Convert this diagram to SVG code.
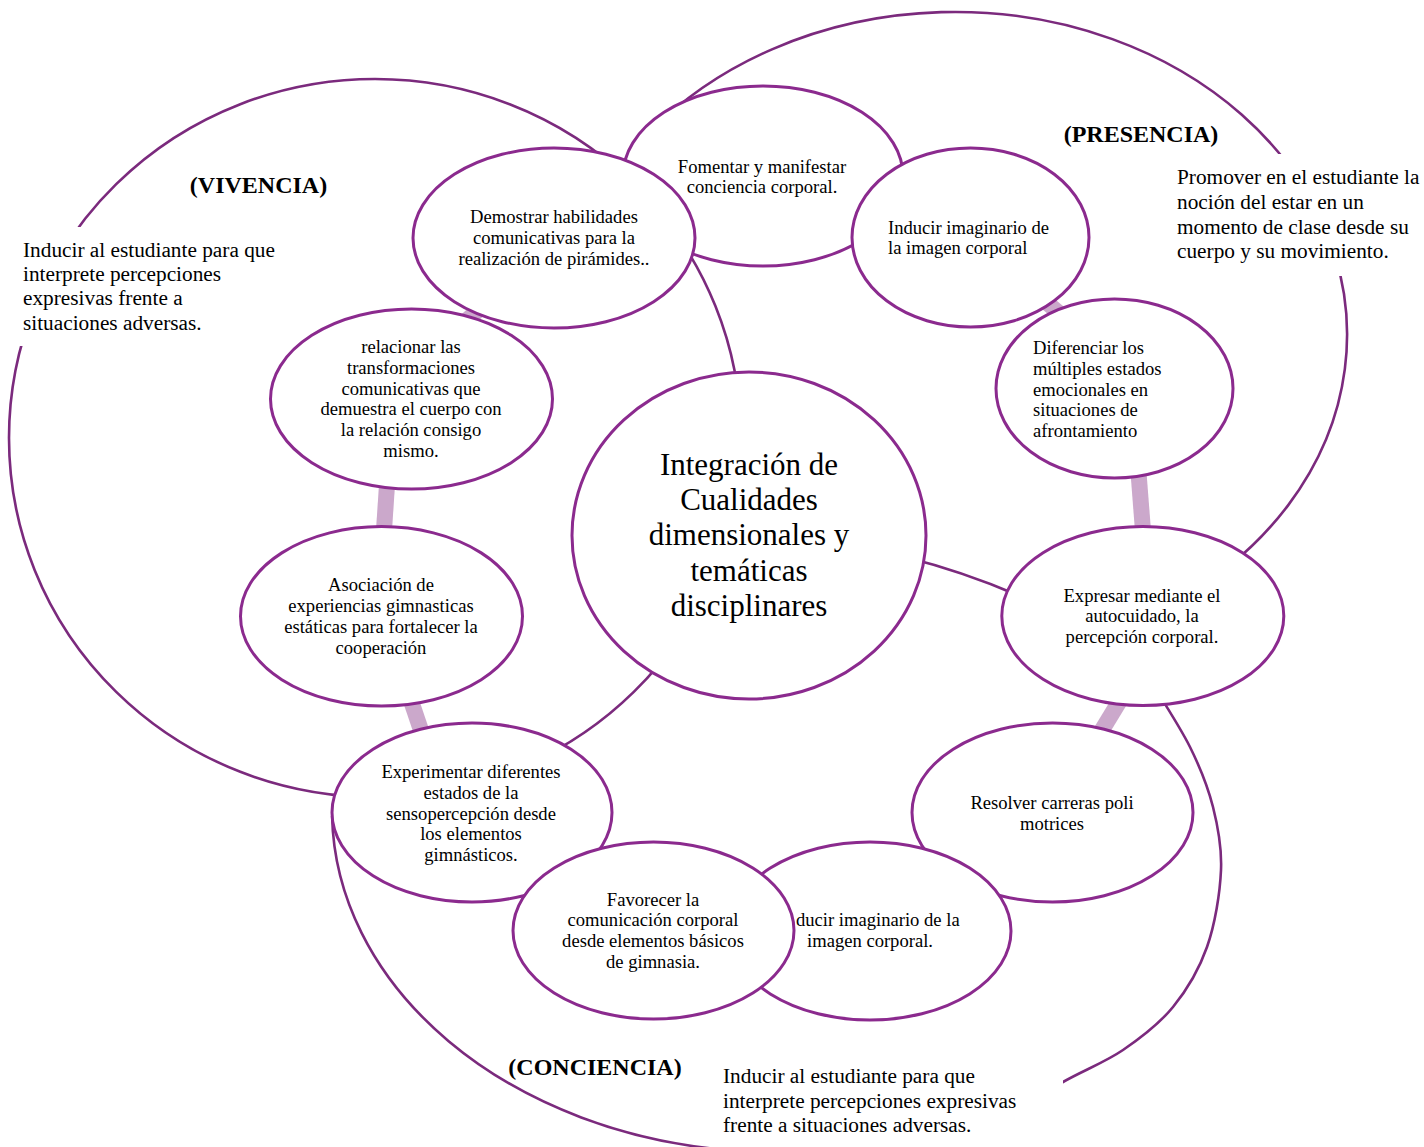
<svg xmlns="http://www.w3.org/2000/svg" width="1424" height="1147" viewBox="0 0 1424 1147">
<style>
.bg{fill:#ffffff}
.arc{fill:none;stroke:#7B2A7D;stroke-width:2.6}
.band{fill:none;stroke:#CBA8CB;stroke-width:16;stroke-linecap:butt}
.node ellipse{fill:#ffffff;stroke:#8B2A8E;stroke-width:3}
.t{font-family:"Liberation Serif","Times New Roman",serif;font-size:18.6px;fill:#000}
.c{text-anchor:middle}
.big{font-size:21.3px}
.lbl{font-weight:bold;font-size:24px;text-anchor:middle}
.cen{font-size:31px}
.box{fill:#ffffff;stroke:none}
</style>
<rect class="bg" x="0" y="0" width="1424" height="1147"/>

<g id="connectors">
  <!-- VIVENCIA outline -->
  <ellipse class="arc" cx="375" cy="438" rx="366" ry="359"/>
  <!-- PRESENCIA outline -->
  <path class="arc" d="M650 132.1 A392 323 0 1 1 1179.1 600"/>
  <!-- CONCIENCIA outline -->
  <path class="arc" d="M332.1 816 A444.5 341.8 0 0 0 730 1150.3"/>
  <path class="arc" d="M1000 1120 C1010.5 1113.7 1042.5 1093.7 1063 1082 C1083.5 1070.3 1104.7 1062.5 1123 1050 C1141.3 1037.5 1159 1024.2 1173 1007 C1187 989.8 1199 969.8 1207 947 C1215 924.2 1220 893.3 1221 870 C1222 846.7 1218.2 827.5 1213 807 C1207.8 786.5 1200.5 768.2 1190 747 C1179.5 725.8 1156.7 691.2 1150 680"/>
  <!-- centre to Expresar -->
  <path class="arc" d="M905 557 Q965 572 1022 597"/>
  <!-- cycle bands -->
  <path class="band" d="M500 290 L440 345"/>
  <path class="band" d="M388 470 L383 545"/>
  <path class="band" d="M405 683 L427 748"/>
  <path class="band" d="M1020 280 L1085 335"/>
  <path class="band" d="M1136 440 L1146 570"/>
  <path class="band" d="M1130 684 L1088 753"/>
</g>

<g id="text-vivencia">
  <rect class="box" x="0" y="227" width="290" height="119"/>
  <text class="t lbl" x="258.5" y="193">(VIVENCIA)</text>
  <text class="t big" x="23" y="257">Inducir al estudiante para que</text>
  <text class="t big" x="23" y="281">interprete percepciones</text>
  <text class="t big" x="23" y="305">expresivas frente a</text>
  <text class="t big" x="23" y="330">situaciones adversas.</text>
</g>

<g id="text-presencia">
  <rect class="box" x="1170" y="154" width="254" height="122"/>
  <text class="t lbl" x="1141" y="142">(PRESENCIA)</text>
  <text class="t big" x="1177" y="184">Promover en el estudiante la</text>
  <text class="t big" x="1177" y="209">noción del estar en un</text>
  <text class="t big" x="1177" y="234">momento de clase desde su</text>
  <text class="t big" x="1177" y="258">cuerpo y su movimiento.</text>
</g>

<g id="text-conciencia">
  <rect class="box" x="715" y="1060" width="348" height="87"/>
  <text class="t lbl" x="595" y="1075">(CONCIENCIA)</text>
  <text class="t big" x="723" y="1083">Inducir al estudiante para que</text>
  <text class="t big" x="723" y="1108">interprete percepciones expresivas</text>
  <text class="t big" x="723" y="1132">frente a situaciones adversas.</text>
</g>

<g id="node-fomentar" class="node">
  <ellipse cx="763" cy="176" rx="140" ry="90"/>
  <text class="t c" x="762" y="173">Fomentar y manifestar</text>
  <text class="t c" x="762" y="193">conciencia corporal.</text>
</g>

<g id="node-demostrar" class="node">
  <ellipse cx="554" cy="238" rx="141" ry="90"/>
  <text class="t c" x="554" y="223">Demostrar habilidades</text>
  <text class="t c" x="554" y="244">comunicativas para la</text>
  <text class="t c" x="554" y="265">realización de pirámides..</text>
</g>

<g id="node-inducir" class="node">
  <ellipse cx="970.5" cy="237.5" rx="118.5" ry="89.5"/>
  <text class="t" x="888" y="234">Inducir imaginario de</text>
  <text class="t" x="888" y="254">la imagen corporal</text>
</g>

<g id="node-diferenciar" class="node">
  <ellipse cx="1114.5" cy="388.5" rx="118.5" ry="89.5"/>
  <text class="t" x="1033" y="354">Diferenciar los</text>
  <text class="t" x="1033" y="375">múltiples estados</text>
  <text class="t" x="1033" y="396">emocionales en</text>
  <text class="t" x="1033" y="416">situaciones de</text>
  <text class="t" x="1033" y="437">afrontamiento</text>
</g>

<g id="node-relacionar" class="node">
  <ellipse cx="411.5" cy="399" rx="141" ry="90"/>
  <text class="t c" x="411" y="353">relacionar las</text>
  <text class="t c" x="411" y="374">transformaciones</text>
  <text class="t c" x="411" y="395">comunicativas que</text>
  <text class="t c" x="411" y="415">demuestra el cuerpo con</text>
  <text class="t c" x="411" y="436">la relación consigo</text>
  <text class="t c" x="411" y="457">mismo.</text>
</g>

<g id="node-central" class="node">
  <ellipse cx="749" cy="535.5" rx="177" ry="163.5"/>
  <text class="t c cen" x="749" y="475">Integración de</text>
  <text class="t c cen" x="749" y="510">Cualidades</text>
  <text class="t c cen" x="749" y="545">dimensionales y</text>
  <text class="t c cen" x="749" y="581">temáticas</text>
  <text class="t c cen" x="749" y="616">disciplinares</text>
</g>

<g id="node-asociacion" class="node">
  <ellipse cx="381.5" cy="616.3" rx="141" ry="89.7"/>
  <text class="t c" x="381" y="591">Asociación de</text>
  <text class="t c" x="381" y="612">experiencias gimnasticas</text>
  <text class="t c" x="381" y="633">estáticas para fortalecer la</text>
  <text class="t c" x="381" y="654">cooperación</text>
</g>

<g id="node-expresar" class="node">
  <ellipse cx="1142.8" cy="616" rx="141" ry="89.5"/>
  <text class="t c" x="1142" y="602">Expresar mediante el</text>
  <text class="t c" x="1142" y="622">autocuidado, la</text>
  <text class="t c" x="1142" y="643">percepción corporal.</text>
</g>

<g id="node-resolver" class="node">
  <ellipse cx="1052.5" cy="812.5" rx="140.5" ry="89.5"/>
  <text class="t c" x="1052" y="809">Resolver carreras poli</text>
  <text class="t c" x="1052" y="830">motrices</text>
</g>

<g id="node-ducir" class="node">
  <ellipse cx="870" cy="931" rx="141" ry="89"/>
  <text class="t" x="796" y="926">ducir imaginario de la</text>
  <text class="t c" x="870" y="947">imagen corporal.</text>
</g>

<g id="node-experimentar" class="node">
  <ellipse cx="472" cy="812.5" rx="140" ry="89.5"/>
  <text class="t c" x="471" y="778">Experimentar diferentes</text>
  <text class="t c" x="471" y="799">estados de la</text>
  <text class="t c" x="471" y="820">sensopercepción desde</text>
  <text class="t c" x="471" y="840">los elementos</text>
  <text class="t c" x="471" y="861">gimnásticos.</text>
</g>

<g id="node-favorecer" class="node">
  <ellipse cx="653.5" cy="930.5" rx="140.5" ry="88.5"/>
  <text class="t c" x="653" y="906">Favorecer la</text>
  <text class="t c" x="653" y="926">comunicación corporal</text>
  <text class="t c" x="653" y="947">desde elementos básicos</text>
  <text class="t c" x="653" y="968">de gimnasia.</text>
</g>
</svg>
